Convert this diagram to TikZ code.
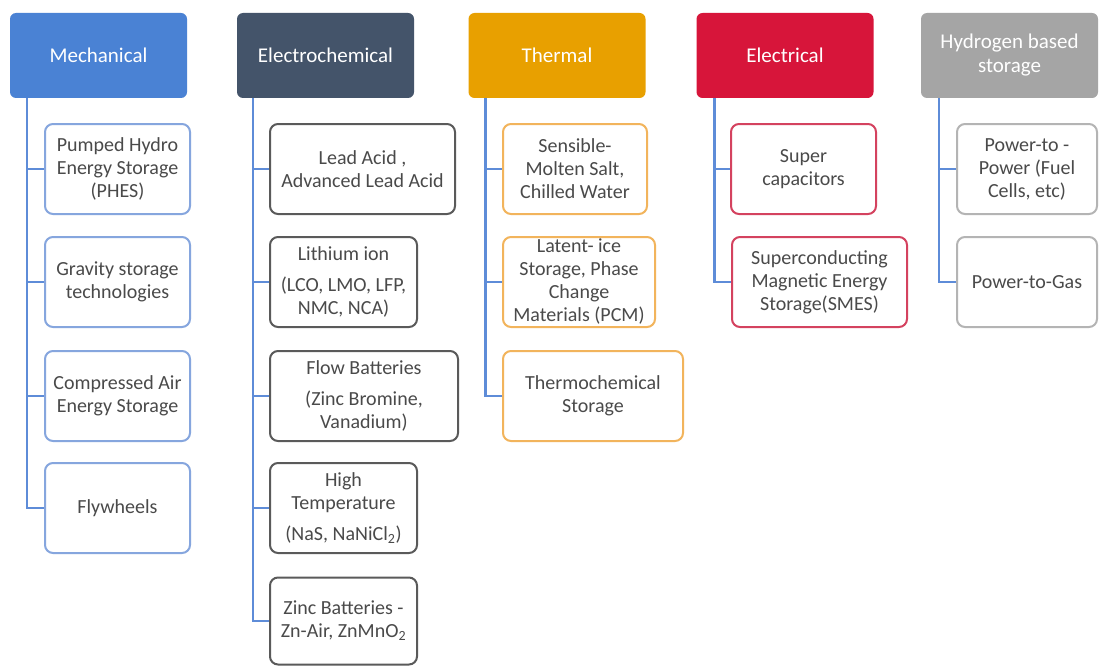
\documentclass[tikz,border=0pt]{standalone}
\usepackage{fontspec}
\setmainfont{Carlito}
\usetikzlibrary{positioning}
\definecolor{mechc}{HTML}{4A82D4}
\definecolor{echemc}{HTML}{44546A}
\definecolor{thermc}{HTML}{E8A000}
\definecolor{elecc}{HTML}{D7153A}
\definecolor{hydc}{HTML}{A5A5A5}
\definecolor{mechl}{HTML}{86A6DE}
\definecolor{echeml}{HTML}{5A5A5A}
\definecolor{therml}{HTML}{F2B45C}
\definecolor{elecl}{HTML}{D4425F}
\definecolor{hydl}{HTML}{B4B4B4}
\definecolor{linkc}{HTML}{5E8CD8}
\definecolor{txt}{HTML}{4A4A4A}
\tikzset{
  head/.style={rectangle,rounded corners=6pt,minimum width=177pt,minimum height=85pt,
    text=white,font=\fontsize{21}{24}\selectfont,align=center},
  item/.style={rectangle,rounded corners=8pt,line width=2pt,fill=white,minimum height=90pt,
    text=txt,font=\fontsize{20}{23}\selectfont,align=center,inner sep=2pt},
  link/.style={linkc,line width=2.5pt},
}

\begin{document}
\begin{tikzpicture}[x=1pt,y=-1pt]
  \useasboundingbox[fill=white] (0,0) rectangle (1099,666);
  % ---------- categories ----------
  \node[head,fill=mechc]  (mech)  at (98.5,55.5)  {Mechanical};
  \node[head,fill=echemc] (echem) at (325.5,55.5) {Electrochemical};
  \node[head,fill=thermc] (therm) at (557,55.5)   {Thermal};
  \node[head,fill=elecc]  (elec)  at (785,55.5)   {Electrical};
  \node[head,fill=hydc]   (hyd)   at (1009.5,55.5) {Hydrogen based\\storage};
  % ---------- mechanical ----------
  \node[item,draw=mechl,minimum width=145pt] (phes) at (117.5,169) {Pumped Hydro\\Energy Storage\\(PHES)};
  \node[item,draw=mechl,minimum width=145pt] (grav) at (117.5,282) {Gravity storage\\technologies};
  \node[item,draw=mechl,minimum width=145pt] (caes) at (117.5,396) {Compressed Air\\Energy Storage};
  \node[item,draw=mechl,minimum width=145pt] (fly)  at (117.5,508) {Flywheels};
  % ---------- electrochemical ----------
  \node[item,draw=echeml,minimum width=185pt] (lead)  at (362.5,169) {Lead Acid ,\\Advanced Lead Acid};
  \node[item,draw=echeml,minimum width=147pt] (li)    at (343.5,282) {Lithium ion\\[8pt](LCO, LMO, LFP,\\NMC, NCA)};
  \node[item,draw=echeml,minimum width=188pt] (flow)  at (364,396)   {Flow Batteries\\[8pt](Zinc Bromine,\\Vanadium)};
  \node[item,draw=echeml,minimum width=147pt] (htemp) at (343.5,508) {High\\Temperature\\[8pt](NaS, NaNiCl\textsubscript{2})};
  \node[item,draw=echeml,minimum width=147pt,minimum height=87pt] (zinc) at (343.5,621) {Zinc Batteries -\\Zn-Air, ZnMnO\textsubscript{2}};
  % ---------- thermal ----------
  \node[item,draw=therml,minimum width=144pt] (sens)  at (575,169) {Sensible-\\Molten Salt,\\Chilled Water};
  \node[item,draw=therml,minimum width=152pt] (lat)   at (579,282) {Latent- ice\\Storage, Phase\\Change\\Materials (PCM)};
  \node[item,draw=therml,minimum width=180pt] (tchem) at (593,396) {Thermochemical\\Storage};
  % ---------- electrical ----------
  \node[item,draw=elecl,minimum width=145pt] (scap) at (803.5,169) {Super\\capacitors};
  \node[item,draw=elecl,minimum width=175pt] (smes) at (819.5,282) {Superconducting\\Magnetic Energy\\Storage(SMES)};
  % ---------- hydrogen ----------
  \node[item,draw=hydl,minimum width=140pt] (ptp) at (1027,169) {Power-to -\\Power (Fuel\\Cells, etc)};
  \node[item,draw=hydl,minimum width=140pt] (ptg) at (1027,282) {Power-to-Gas};
  % ---------- links ----------
  \coordinate (mtop) at ([xshift=17pt]mech.south west);
  \coordinate (etop) at ([xshift=16pt]echem.south west);
  \coordinate (ttop) at ([xshift=17pt]therm.south west);
  \coordinate (ltop) at ([xshift=18pt]elec.south west);
  \coordinate (htop) at ([xshift=18pt]hyd.south west);
  \foreach \c in {phes,grav,caes,fly} \draw[link] (mtop) |- (\c.west);
  \foreach \c in {lead,li,flow,htemp,zinc} \draw[link] (etop) |- (\c.west);
  \foreach \c in {sens,lat,tchem} \draw[link] (ttop) |- (\c.west);
  \foreach \c in {scap,smes} \draw[link] (ltop) |- (\c.west);
  \foreach \c in {ptp,ptg} \draw[link] (htop) |- (\c.west);
\end{tikzpicture}
\end{document}
